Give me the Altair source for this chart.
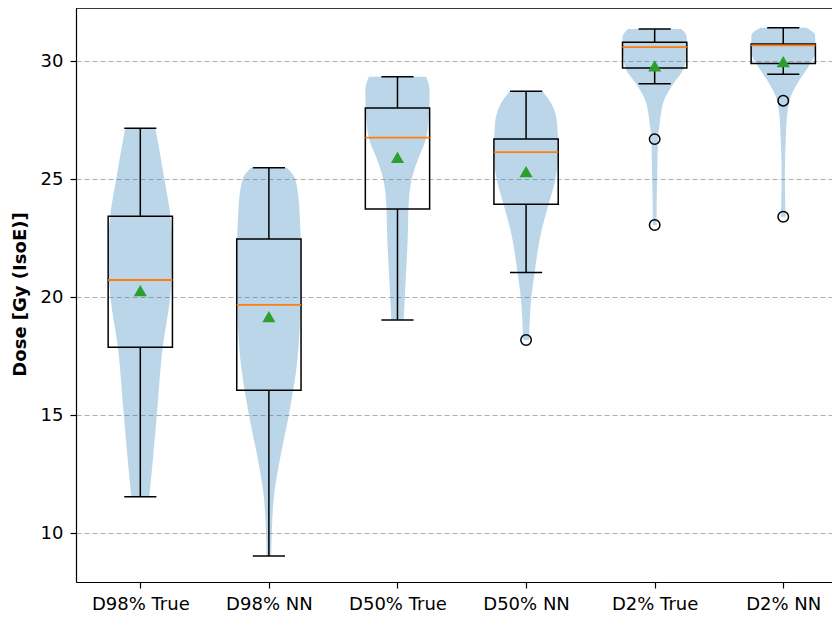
import altair as alt
import pandas as pd

categories = ["D98% True", "D98% NN", "D50% True", "D50% NN", "D2% True", "D2% NN"]
positions = [1, 2, 3, 4, 5, 6]

whisker_low = [11.54, 9.03, 19.03, 21.04, 29.04, 29.44]
q1 = [17.87, 16.05, 23.73, 23.93, 29.70, 29.89]
median = [20.72, 19.67, 26.75, 26.14, 30.59, 30.66]
q3 = [23.42, 22.46, 28.01, 26.69, 30.79, 30.72]
whisker_high = [27.15, 25.48, 29.33, 28.72, 31.36, 31.41]
means = [20.27, 19.17, 25.92, 25.31, 29.79, 29.97]

outlier_pos = [4, 5, 5, 6, 6]
outlier_val = [18.18, 26.69, 23.05, 28.32, 23.40]

# violin profiles: dose values and relative density (1 = widest)
violin_dose = [
    [11.54, 13.4, 15.1, 17.9, 20.0, 21.9, 23.4, 25.0, 27.15],
    [9.03, 10.0, 11.7, 13.1, 15.0, 17.37, 19.66, 21.57, 23.7, 25.0, 25.48],
    [19.03, 20.86, 22.56, 23.97, 25.03, 25.95, 26.73, 28.0, 28.77, 29.33],
    [18.18, 18.53, 19.94, 21.07, 22.63, 23.97, 25.03, 26.16, 27.29, 28.14, 28.72],
    [23.05, 23.74, 25.16, 26.57, 27.42, 28.4, 29.04, 29.67, 30.24, 31.02, 31.36],
    [23.40, 24.03, 25.3, 26.7, 27.7, 28.55, 29.18, 29.82, 30.38, 31.09, 31.41],
]
violin_density = [
    [0.28, 0.41, 0.52, 0.70, 0.93, 1.0, 0.94, 0.75, 0.47],
    [0.07, 0.09, 0.17, 0.34, 0.62, 0.89, 0.98, 1.0, 0.95, 0.82, 0.56],
    [0.19, 0.26, 0.32, 0.35, 0.45, 0.67, 0.89, 0.99, 1.0, 0.89],
    [0.09, 0.10, 0.16, 0.27, 0.45, 0.71, 0.92, 1.0, 0.97, 0.81, 0.51],
    [0.06, 0.06, 0.08, 0.10, 0.16, 0.31, 0.58, 0.90, 0.98, 1.0, 0.83],
    [0.08, 0.06, 0.05, 0.08, 0.12, 0.25, 0.50, 0.81, 1.0, 0.99, 0.72],
]

VIOLIN_HALF = 0.25
BOX_HALF = 0.25
CAP_HALF = 0.125

rows = []
for p, ds, ws in zip(positions, violin_dose, violin_density):
    for d, w in zip(ds, ws):
        rows.append({"pos": p, "dose": d, "lo": p - VIOLIN_HALF * w, "hi": p + VIOLIN_HALF * w})
violin_df = pd.DataFrame(rows)

box_df = pd.DataFrame({
    "pos": positions, "cat": categories,
    "wl": whisker_low, "q1": q1, "med": median, "q3": q3, "wh": whisker_high, "mean": means,
})
box_df["bl"] = box_df["pos"] - BOX_HALF
box_df["br"] = box_df["pos"] + BOX_HALF
box_df["cl"] = box_df["pos"] - CAP_HALF
box_df["cr"] = box_df["pos"] + CAP_HALF

out_df = pd.DataFrame({"pos": outlier_pos, "val": outlier_val})

X_MIN, X_MAX = 0.5, 6.379
Y_MIN, Y_MAX = 7.924, 32.246
xscale = alt.Scale(domain=[X_MIN, X_MAX], nice=False, zero=False)
yscale = alt.Scale(domain=[Y_MIN, Y_MAX], nice=False, zero=False)

label_expr = "[" + ",".join('"%s"' % c for c in categories) + "][datum.value - 1]"

x_axis = alt.Axis(values=positions, labelExpr=label_expr, grid=False, title=None,
                  labelFontSize=18, labelFont="DejaVu Sans", labelColor="black",
                  tickSize=6, tickColor="black", tickWidth=1.2, labelPadding=7,
                  domainColor="black", domainWidth=1.2)
y_axis = alt.Axis(values=[10, 15, 20, 25, 30], title="Dose [Gy (IsoE)]",
                  labelFontSize=18, labelFont="DejaVu Sans", labelColor="black",
                  tickSize=6, tickColor="black", tickWidth=1.2, labelPadding=7,
                  domainColor="black", domainWidth=1.2,
                  grid=True, gridColor="#b0b0b0", gridDash=[5, 3], gridWidth=1,
                  titleFont="DejaVu Sans", titleFontSize=18, titleFontWeight="bold",
                  titleColor="black", titleX=-56, titleY=286, titleAngle=-90,
                  titleAlign="center", titleBaseline="middle")

violin = alt.Chart(violin_df).mark_area(
    orient="horizontal", fill="#1f77b4", fillOpacity=0.3, interpolate="monotone"
).encode(
    y=alt.Y("dose:Q", scale=yscale, axis=y_axis),
    x=alt.X("lo:Q", scale=xscale, axis=x_axis),
    x2="hi:Q",
    detail="pos:N",
)

base = alt.Chart(box_df)
box = base.mark_rect(fillOpacity=0, stroke="black", strokeWidth=1.5).encode(
    x=alt.X("bl:Q", scale=xscale), x2="br:Q",
    y=alt.Y("q1:Q", scale=yscale), y2="q3:Q",
)
wh_hi = base.mark_rule(color="black", strokeWidth=1.5).encode(
    x=alt.X("pos:Q", scale=xscale), y=alt.Y("q3:Q", scale=yscale), y2="wh:Q")
wh_lo = base.mark_rule(color="black", strokeWidth=1.5).encode(
    x=alt.X("pos:Q", scale=xscale), y=alt.Y("wl:Q", scale=yscale), y2="q1:Q")
cap_hi = base.mark_rule(color="black", strokeWidth=1.5).encode(
    x=alt.X("cl:Q", scale=xscale), x2="cr:Q", y=alt.Y("wh:Q", scale=yscale))
cap_lo = base.mark_rule(color="black", strokeWidth=1.5).encode(
    x=alt.X("cl:Q", scale=xscale), x2="cr:Q", y=alt.Y("wl:Q", scale=yscale))
med = base.mark_rule(color="#ff7f0e", strokeWidth=1.8).encode(
    x=alt.X("bl:Q", scale=xscale), x2="br:Q", y=alt.Y("med:Q", scale=yscale))
mean_pts = base.mark_point(shape="triangle-up", filled=True, color="#2ca02c",
                           size=170, opacity=1).encode(
    x=alt.X("pos:Q", scale=xscale), y=alt.Y("mean:Q", scale=yscale))
outs = alt.Chart(out_df).mark_point(shape="circle", filled=False, color="black",
                                   size=110, strokeWidth=1.5, opacity=1).encode(
    x=alt.X("pos:Q", scale=xscale), y=alt.Y("val:Q", scale=yscale))

top_border = alt.Chart(pd.DataFrame({"a": [X_MIN], "b": [X_MAX], "y": [Y_MAX]})).mark_rule(
    color="black", strokeWidth=1.5).encode(
    x=alt.X("a:Q", scale=xscale), x2="b:Q", y=alt.Y("y:Q", scale=yscale))

chart = alt.layer(violin, box, wh_hi, wh_lo, cap_hi, cap_lo, med, mean_pts, outs, top_border).properties(
    width=756, height=574,
    autosize=alt.AutoSizeParams(type="none"),
    padding={"left": 68, "top": 0, "right": 0, "bottom": 35},
).configure_view(strokeWidth=0).configure(background="white")

chart.save("out.html", embed_options={"renderer": "svg", "actions": False})
